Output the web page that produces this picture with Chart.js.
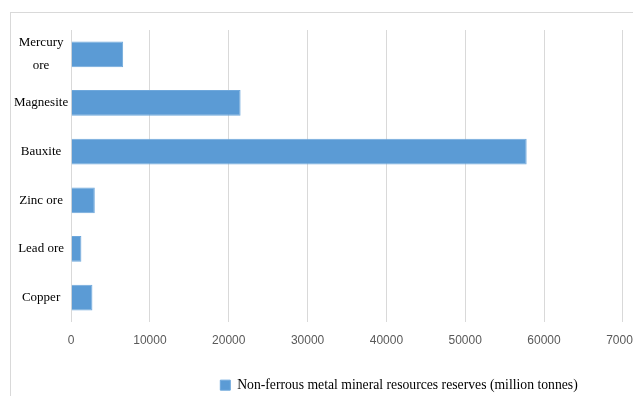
<!DOCTYPE html>
<html>
<head>
<meta charset="utf-8">
<script src="https://cdn.jsdelivr.net/npm/chart.js@4/dist/chart.umd.min.js"></script>
<style>
  html, body { margin: 0; padding: 0; background: #fff; overflow: hidden; }
  #frame { position: absolute; left: 10px; top: 12px; width: 660px; height: 420px; border: 1px solid #d9d9d9; }
  #chart { position: absolute; left: 0; top: 0; }
</style>
</head>
<body>
<div id="frame"></div>
<canvas id="chart" width="651" height="396"></canvas>
<script>
const categories = [["Mercury", "ore"], "Magnesite", "Bauxite", "Zinc ore", "Lead ore", "Copper"];
const reserves = [6600, 21500, 57800, 3000, 1300, 2700];
const seriesName = "Non-ferrous metal mineral resources reserves (million tonnes)";
const xTicks = [0, 10000, 20000, 30000, 40000, 50000, 60000, 70000];

const serif = "'Liberation Serif', 'Times New Roman', serif";
const sans = "'Liberation Sans', Arial, sans-serif";

// nudge the legend to where the original sits
const shiftLegend = {
  id: "shiftLegend",
  afterLayout(chart) {
    const lg = chart.legend;
    lg.left += 68; lg.right += 68;
    lg.top += 6; lg.bottom += 6;
  }
};

new Chart(document.getElementById("chart"), {
  type: "bar",
  data: {
    labels: categories,
    datasets: [{
      label: seriesName,
      data: reserves,
      backgroundColor: "#5b9bd5",
      borderColor: "#6fa8dc",
      borderWidth: 1,
      barPercentage: 0.53,
      categoryPercentage: 1
    }]
  },
  options: {
    indexAxis: "y",
    responsive: false,
    animation: false,
    layout: { padding: { left: 11, top: 30, right: 0, bottom: 0 } },
    scales: {
      x: {
        min: 0,
        max: 70000,
        afterBuildTicks(axis) { axis.ticks = xTicks.map(v => ({ value: v })); },
        grid: { color: "#d9d9d9", drawTicks: false },
        border: { display: false },
        ticks: {
          padding: 11.5,
          color: "#595959",
          font: { family: sans, size: 12 },
          callback: v => String(v)
        }
      },
      y: {
        grid: { display: false, drawTicks: false },
        border: { display: false },
        ticks: {
          padding: 3,
          crossAlign: "center",
          color: "#000",
          font: { family: serif, size: 13, lineHeight: 1.75 }
        }
      }
    },
    plugins: {
      tooltip: { enabled: false },
      legend: {
        position: "bottom",
        labels: {
          boxWidth: 10,
          boxHeight: 10,
          padding: 13,
          color: "#000",
          font: { family: serif, size: 13.7 }
        }
      }
    }
  },
  plugins: [shiftLegend]
});
</script>
</body>
</html>
